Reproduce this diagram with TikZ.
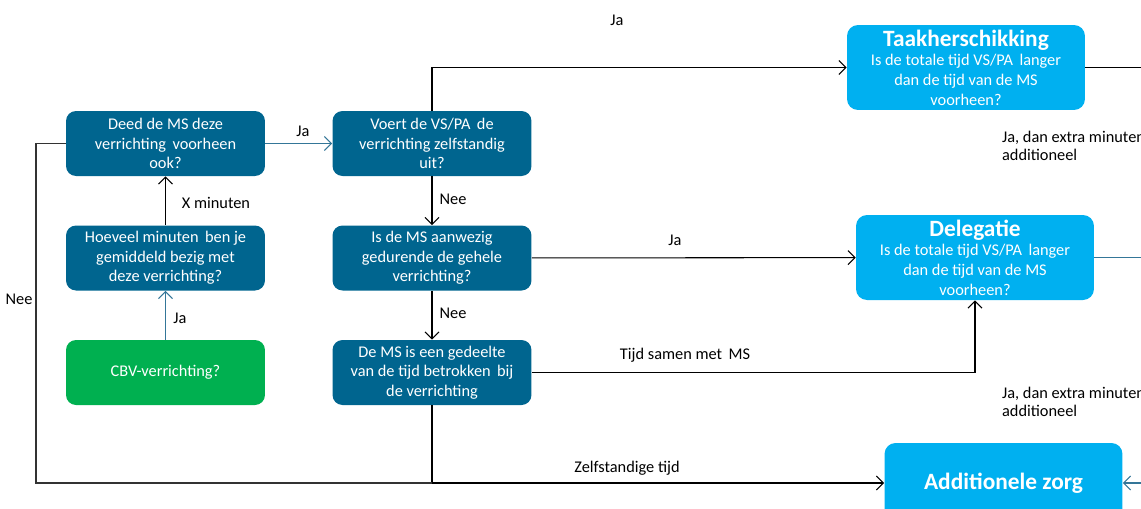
\documentclass[tikz,border=0pt]{standalone}
\usepackage{fontspec}
\setmainfont{Carlito}
\usetikzlibrary{arrows.meta,positioning}
\definecolor{msblue}{RGB}{0,101,143}
\definecolor{lightblue}{RGB}{0,176,240}
\definecolor{cbvgreen}{RGB}{0,176,80}
\definecolor{linkteal}{RGB}{52,118,152}

\begin{document}
\begin{tikzpicture}[x=0.02cm,y=-0.02cm,
    qbox/.style={fill=msblue, text=white, rounded corners=0.2cm, minimum width=3.98cm, minimum height=1.3cm, align=center, inner sep=0pt, font=\fontsize{9.3}{11}\selectfont},
    outbox/.style={fill=lightblue, text=white, rounded corners=0.22cm, minimum width=4.76cm, minimum height=1.7cm, align=center, inner sep=0pt, font=\fontsize{9.3}{11.2}\selectfont},
    flow/.style={-{Straight Barb[length=4pt,width=8pt]}, line width=0.6pt},
    lbl/.style={font=\fontsize{9.3}{10.4}\selectfont, inner sep=1pt}]
    \useasboundingbox (0,0) rectangle (1141,508);
    \clip (0,0) rectangle (1141,508);

    % Left column
    \node[qbox] (deed) at (165.5,143.5) {Deed de MS deze\\verrichting\, voorheen\\ook?};
    \node[qbox] (minuten) at (165.5,258) {Hoeveel minuten\, ben je\\gemiddeld bezig met\\deze verrichting?};
    \node[qbox, fill=cbvgreen] (cbv) at (165.5,372.5) {CBV-verrichting?};

    % Middle column
    \node[qbox] (zelf) at (432,143.5) {Voert de VS/PA\, de\\verrichting zelfstandig\\uit?};
    \node[qbox] (aanwezig) at (432,258) {Is de MS aanwezig\\gedurende de gehele\\verrichting?};
    \node[qbox] (samen) at (432,372.5) {De MS is een gedeelte\\van de tijd betrokken\, bij\\de verrichting};

    % Outcomes
    \node[outbox] (taak) at (966,67.5) {{\fontsize{13.3}{14}\selectfont\bfseries Taakherschikking}\\Is de totale tijd VS/PA\, langer\\dan de tijd van de MS\\voorheen?};
    \node[outbox] (delegatie) at (975,257.5) {{\fontsize{13.3}{14}\selectfont\bfseries Delegatie}\\Is de totale tijd VS/PA\, langer\\dan de tijd van de MS\\voorheen?};
    \node[outbox, minimum height=1.6cm, font=\fontsize{13.3}{14}\selectfont\bfseries] (zorg) at (1003.5,483) {Additionele zorg};

    % Free ends beyond the right edge
    \coordinate (taakout) at (1160,67.5);
    \coordinate (delout) at (1160,257.5);
    \coordinate (zorgin) at (1160,483);
    \coordinate (neehoek) at (36,483);

    % Connectors
    \draw[flow, linkteal] (cbv) -- (minuten);
    \draw[flow] (minuten) -- (deed);
    \draw[flow, linkteal] (deed) -- (zelf);
    \draw[flow] (zelf) -- (aanwezig);
    \draw[flow] (aanwezig) -- (samen);
    \draw[flow] (zelf.north) |- (taak.west);
    \draw[flow] (aanwezig) -- (delegatie);
    \draw[flow] (samen.east) -| (delegatie.south);
    \draw[flow] (samen.south) |- (zorg.west);
    \draw[line width=0.6pt, black!80] (deed.west) -| (neehoek) -- (samen.south |- neehoek);
    \draw[line width=0.6pt] (taak.east) -- (taakout);
    \draw[line width=0.6pt, linkteal] (delegatie.east) -- (delout);
    \draw[flow, linkteal] (zorgin) -- (zorg.east);

    % Labels
    \node[lbl] (jataak) at (617,20) {Ja};
    \node[lbl] (jazelf) at (303,131) {Ja};
    \node[lbl] (xmin) at (216,203) {X minuten};
    \node[lbl] (jacbv) at (180,318) {Ja};
    \node[lbl] (needeed) at (19,299) {Nee};
    \node[lbl] (neezelf) at (453,199) {Nee};
    \node[lbl] (neeaanw) at (453,313) {Nee};
    \node[lbl] (jadel) at (675,240) {Ja};
    \node[lbl] (tijdsamen) at (685,355) {Tijd samen met\, MS};
    \node[lbl] (zelftijd) at (627,468) {Zelfstandige tijd};
    \node[lbl, align=left, anchor=west] (extrataak) at (1000,146) {Ja, dan extra minuten\\additioneel};
    \node[lbl, align=left, anchor=west] (extradel) at (1000,402) {Ja, dan extra minuten\\additioneel};
\end{tikzpicture}
\end{document}
